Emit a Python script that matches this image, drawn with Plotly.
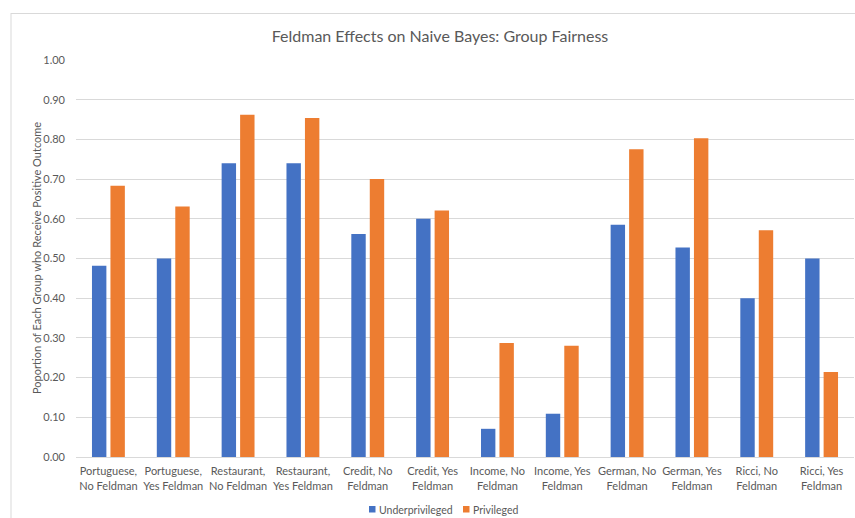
import plotly.graph_objects as go

categories = [
    "Portuguese,<br>No Feldman", "Portuguese,<br>Yes Feldman",
    "Restaurant,<br>No Feldman", "Restaurant,<br>Yes Feldman",
    "Credit, No<br>Feldman", "Credit, Yes<br>Feldman",
    "Income, No<br>Feldman", "Income, Yes<br>Feldman",
    "German, No<br>Feldman", "German, Yes<br>Feldman",
    "Ricci, No<br>Feldman", "Ricci, Yes<br>Feldman",
]
series_names = ["Underprivileged", "Privileged"]
underprivileged = [0.482, 0.50, 0.740, 0.740, 0.562, 0.600, 0.071, 0.109, 0.585, 0.528, 0.40, 0.50]
privileged = [0.683, 0.631, 0.862, 0.854, 0.700, 0.621, 0.287, 0.280, 0.775, 0.803, 0.571, 0.214]

W, H = 855, 518
L, R, T, B = 76, 1, 60, 61
PW, PH = W - L - R, H - T - B
FONT = "Lato"
GREY = "#595959"
COLORS = ["#4472C4", "#ED7D31"]


def px_x(px):
    return (px - L) / PW


def px_y(py):
    return (H - B - py) / PH


fig = go.Figure()
for name, vals, col in zip(series_names, [underprivileged, privileged], COLORS):
    fig.add_trace(go.Bar(x=categories, y=vals, name=name, showlegend=False,
                         marker=dict(color=col, line=dict(width=0))))

fig.update_layout(
    width=W, height=H,
    margin=dict(l=L, r=R, t=T, b=B, pad=0),
    paper_bgcolor="white", plot_bgcolor="white",
    barmode="group", bargap=0.43, bargroupgap=0.22,
    font=dict(family=FONT, color=GREY, size=11),
    title=dict(text="Feldman Effects on Naive Bayes: Group Fairness",
               x=440 / W, xref="container", xanchor="center",
               y=1 - 36 / H, yref="container", yanchor="middle",
               font=dict(family=FONT, size=16, color=GREY)),
    showlegend=False,
)

fig.update_yaxes(range=[0, 1], dtick=0.1, tickformat=".2f",
                 showgrid=True, gridcolor="#d9d9d9", gridwidth=1,
                 zeroline=False, showline=False, ticks="",
                 ticklabelstandoff=10,
                 tickfont=dict(family=FONT, size=11, color=GREY))
fig.update_xaxes(showline=True, linecolor="#d9d9d9", linewidth=1,
                 ticks="", tickangle=0, ticklabelstandoff=4,
                 tickfont=dict(family=FONT, size=11, color=GREY))

fig.add_annotation(text="Poportion of Each Group who Receive Positive Outcome",
                   xref="paper", yref="paper",
                   x=px_x(36), y=px_y(258),
                   xanchor="center", yanchor="middle",
                   textangle=-90, showarrow=False,
                   font=dict(family=FONT, size=11, color=GREY))

# legend (Excel-style small square swatches)
legend_items = [(series_names[0], COLORS[0], 369), (series_names[1], COLORS[1], 463)]
for name, col, x0 in legend_items:
    fig.add_shape(type="rect", xref="paper", yref="paper",
                  x0=px_x(x0), x1=px_x(x0 + 6.5), y0=px_y(512.5), y1=px_y(506),
                  fillcolor=col, line=dict(width=0))
    fig.add_annotation(text=name, xref="paper", yref="paper",
                       x=px_x(x0 + 8), y=px_y(509.5), xanchor="left", yanchor="middle",
                       showarrow=False, font=dict(family=FONT, size=10.5, color=GREY))

# chart frame / spreadsheet border remnants
fig.add_shape(type="line", xref="paper", yref="paper",
              x0=px_x(11), x1=px_x(11), y0=px_y(H), y1=px_y(13),
              line=dict(color="#d9d9d9", width=1))
fig.add_shape(type="line", xref="paper", yref="paper",
              x0=px_x(11), x1=px_x(W), y0=px_y(13.5), y1=px_y(13.5),
              line=dict(color="#d9d9d9", width=1))

fig.write_html("out.html")
